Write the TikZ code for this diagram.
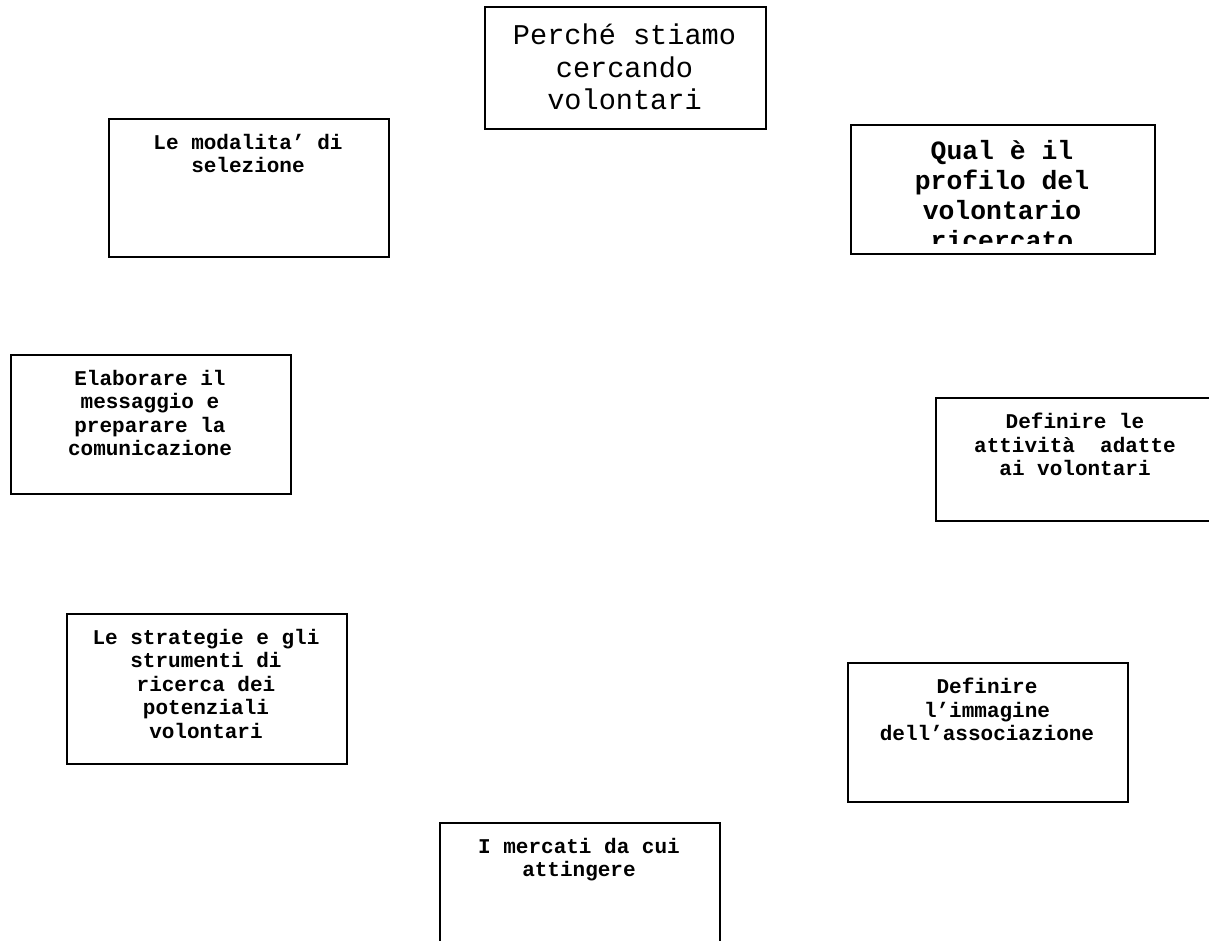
\documentclass[tikz,border=0pt]{standalone}
\usepackage{fontspec}
\newfontfamily\cour{Liberation Mono}
\begin{document}
\begin{tikzpicture}[x=1pt,y=-1pt,
  box/.style={draw, line width=2pt, inner sep=0pt, anchor=north west},
  lbl/.style={anchor=north, inner sep=0pt, align=center, font=\cour\bfseries\fontsize{21}{23.5}\selectfont}]
\useasboundingbox (0,0) rectangle (1209,940);
\clip (0,0) rectangle (1209,940);
% boxes
\node[box, minimum width=281pt, minimum height=122pt] (perche) at (484,6) {};
\node[box, minimum width=280pt, minimum height=138pt] (modal) at (108,118) {};
\node[box, minimum width=304pt, minimum height=129pt] (qual) at (850,124) {};
\node[box, minimum width=280pt, minimum height=139pt] (elab) at (10,354) {};
\node[box, minimum width=300pt, minimum height=123pt] (attiv) at (935,397) {};
\node[box, minimum width=280pt, minimum height=150pt] (strat) at (66,613) {};
\node[box, minimum width=280pt, minimum height=139pt] (immag) at (847,662) {};
\node[box, minimum width=280pt, minimum height=200pt] (merc) at (439,822) {};
% labels
\node[lbl, font=\cour\fontsize{28.6}{32.5}\selectfont] (tperche) at (624.5,24) {Perché stiamo\\cercando\\volontari};
\node[lbl] (tmodal) at (248,134) {Le modalita’ di\\selezione};
\begin{scope}
\clip (850,124) rectangle (1154,243);
\node[lbl, font=\cour\bfseries\fontsize{26.4}{30}\selectfont] (tqual) at (1002,140) {Qual è il\\profilo del\\volontario\\ricercato};
\end{scope}
\node[lbl] (telab) at (150,370) {Elaborare il\\messaggio e\\preparare la\\comunicazione};
\node[lbl] (tattiv) at (1075,413) {Definire le\\attività\ \ adatte\\ai volontari};
\node[lbl] (tstrat) at (206,629) {Le strategie e gli\\strumenti di\\ricerca dei\\potenziali\\volontari};
\node[lbl] (timmag) at (987,678) {Definire\\l’immagine\\dell’associazione};
\node[lbl] (tmerc) at (579,838) {I mercati da cui\\attingere};
\end{tikzpicture}
\end{document}
